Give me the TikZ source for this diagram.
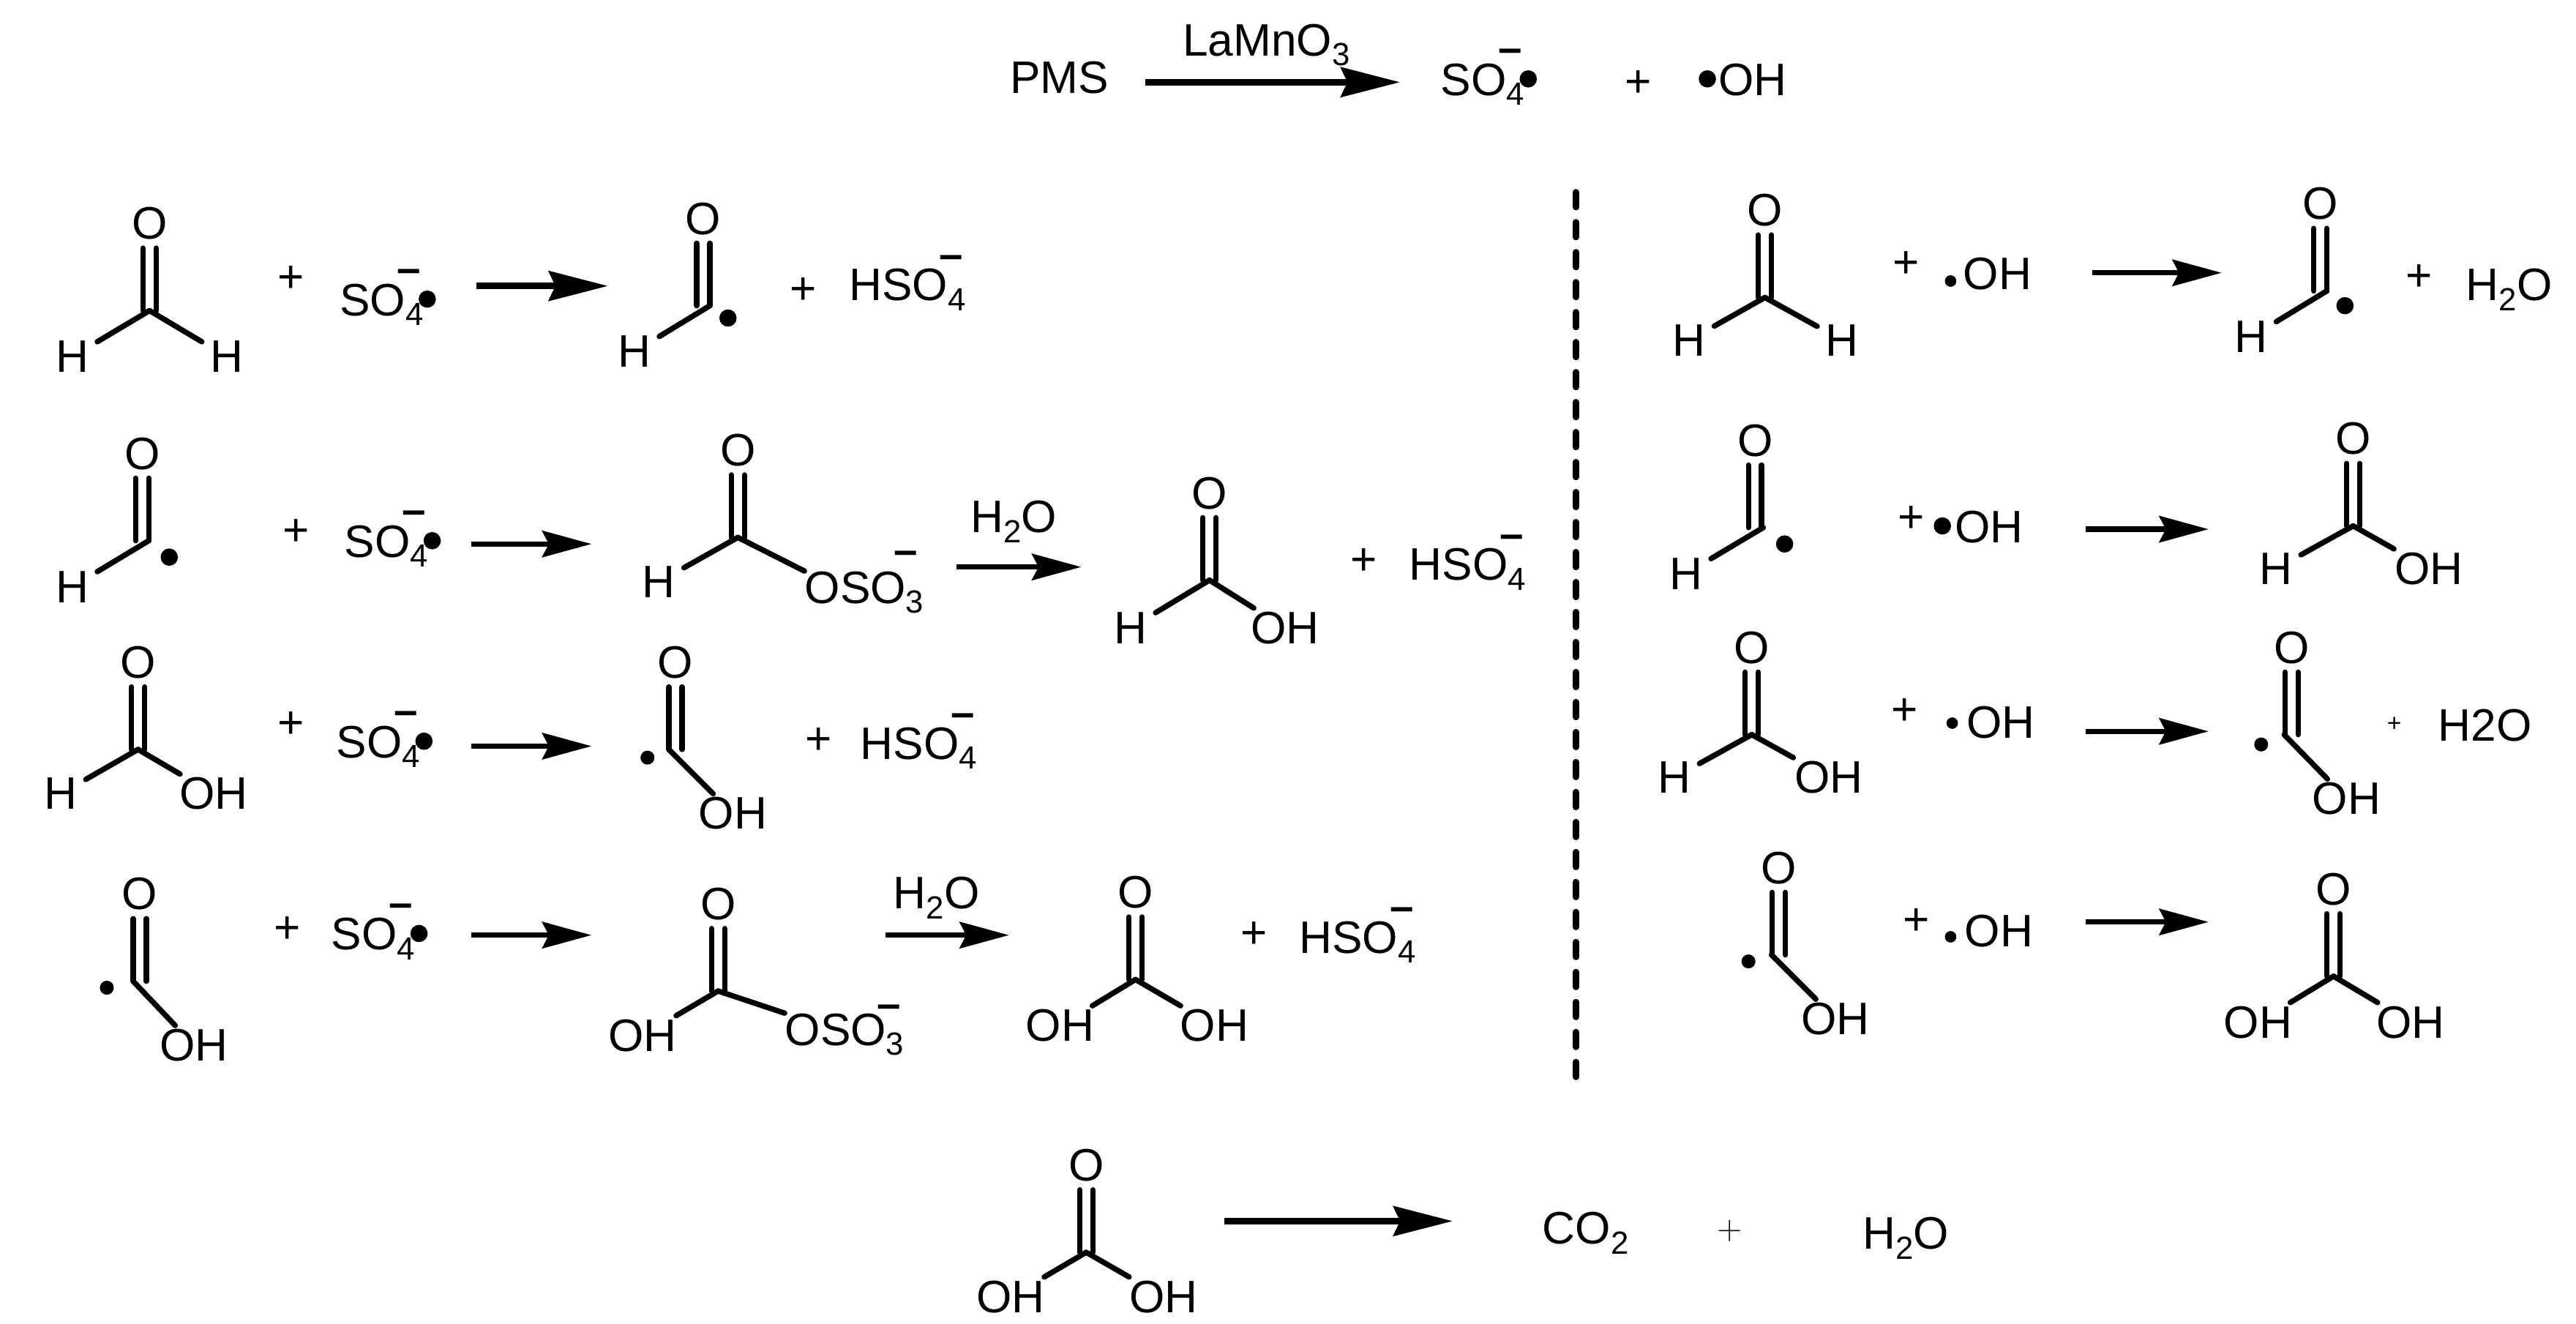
\documentclass[tikz,border=0pt]{standalone}
\usepackage{fontspec}
\setmainfont{Liberation Sans}
\usetikzlibrary{arrows.meta}
\newcommand{\chsub}[1]{\raisebox{-6pt}{\fontsize{19.5}{20}\selectfont #1}}
\tikzset{
  chem/.style={anchor=base west,inner sep=0pt,xshift=-0.5pt},
  atom/.style={inner sep=5pt},
  hydroxyl/.style={inner sep=2pt},
  plus/.style={inner sep=0pt},
  minus/.style={inner sep=0pt,yshift=-2.5pt,font=\fontsize{26}{26}\selectfont\bfseries},
  dot/.style={circle,fill=black,inner sep=0pt,minimum size=10.5pt},
  meddot/.style={circle,fill=black,inner sep=0pt,minimum size=8.5pt},
  smalldot/.style={circle,fill=black,inner sep=0pt,minimum size=7pt},
  bond/.style={line width=3.3pt,line cap=round},
  rxn/.style={line width=3.3pt,-{Stealth[length=30pt,width=16pt,inset=4pt]}},
  bigrxn/.style={line width=4pt,-{Stealth[length=36pt,width=18pt,inset=4pt]}}
}
% carbon with its double bonded oxygen: name, x, y, shift of the oxygen
\newcommand{\carbonyl}[4]{
  \coordinate (#1c) at (#2,#3);
  \node[atom] (#1o) at (#2+#4,#3-53) {O};
  \draw[bond] ([xshift=-4pt]#1o.south) -- ([xshift=-4pt]#1o.south |- #1c);
  \draw[bond] ([xshift=4pt]#1o.south) -- ([xshift=4pt]#1o.south |- #1c);
}
% H or OH on a carbon: style, name, carbon, x, y, text
\newcommand{\arm}[6]{
  \node[#1] (#2) at (#4,#5) {#6};
  \draw[bond] (#3) -- (#2);
}
% sulfate radical: name, x, baseline
\newcommand{\sofour}[3]{
  \node[chem] (#1) at (#2,#3) {SO\chsub{4}};
  \node[minus] (#1m) at (#2+42,#3-26.5) {--};
  \node[dot] (#1d) at (#2+53,#3-10) {};
}
% bisulfate: name, x, baseline
\newcommand{\hsofour}[3]{
  \node[chem] (#1) at (#2,#3) {HSO\chsub{4}};
  \node[minus] (#1m) at (#2+62,#3-26) {--};
}
\begin{document}
\begin{tikzpicture}[x=1pt,y=-1pt,font=\fontsize{27.7}{30}\selectfont]
\useasboundingbox (0,0) rectangle (1567.6,805.2);

% Top line
\node[chem] (pms) at (615,57) {PMS};
\node[chem] (cat) at (720,34) {LaMnO\chsub{3}};
\coordinate (ta) at (697,50);
\coordinate (tb) at (852,50);
\draw[bigrxn] (ta) -- (tb);
\sofour{tso}{877}{58}
\node[plus] (tp) at (997,51) {+};
\node[dot] (tod) at (1039,48) {};
\node[chem] (toh) at (1046,58) {OH};

% Left, row 1
\carbonyl{ma}{91}{189}{0}
\arm{atom}{mah}{mac}{44}{217}{H}
\arm{atom}{mai}{mac}{138}{217}{H}
\node[plus] (pa) at (177,170) {+};
\sofour{soa}{207}{192}
\coordinate (aa) at (290,174);
\coordinate (ab) at (370,174);
\draw[bigrxn] (aa) -- (ab);
\carbonyl{mb}{432}{186}{-4}
\arm{atom}{mbh}{mbc}{386}{214}{H}
\node[dot] (mbd) at (443,193.5) {};
\node[plus] (pb) at (489,177) {+};
\hsofour{hsa}{517}{183}

% Left, row 2
\carbonyl{mc}{90.5}{329}{-4}
\arm{atom}{mch}{mcc}{44}{357}{H}
\node[dot] (mcd) at (103,339) {};
\node[plus] (pc) at (180,324) {+};
\sofour{sob}{210}{339}
\coordinate (ba) at (287,331);
\coordinate (bb) at (360,331);
\draw[rxn] (ba) -- (bb);
\carbonyl{md}{449}{327}{0}
\arm{atom}{mdh}{mdc}{401}{354}{H}
\node[chem] (mdx) at (490,367) {OSO\chsub{3}};
\draw[bond] (mdc) -- (mdx.north west);
\node[minus] (mdm) at (551,337) {--};
\node[chem] (wa) at (591,324) {H\chsub{2}O};
\coordinate (ca) at (582,345);
\coordinate (cb) at (658,345);
\draw[rxn] (ca) -- (cb);
\carbonyl{me}{736}{353}{0}
\arm{atom}{meh}{mec}{688}{382}{H}
\arm{hydroxyl}{meo}{mec}{782}{382}{OH}
\node[plus] (pd) at (830,342) {+};
\hsofour{hsb}{858}{353}

% Left, row 3
\carbonyl{mf}{84}{456}{0}
\arm{atom}{mfh}{mfc}{37}{483}{H}
\arm{hydroxyl}{mfo}{mfc}{130}{483}{OH}
\node[plus] (pe) at (177,441) {+};
\sofour{soc}{205}{461}
\coordinate (da) at (287,454);
\coordinate (db) at (360,454);
\draw[rxn] (da) -- (db);
\carbonyl{mg}{407}{456}{4}
\node[meddot] (mgd) at (394,461) {};
\arm{hydroxyl}{mgo}{mgc}{446}{495}{OH}
\node[plus] (pf) at (498,451) {+};
\hsofour{hsc}{524}{462}

% Left, row 4
\carbonyl{mh}{81}{597}{4}
\node[meddot] (mhd) at (65,601) {};
\arm{hydroxyl}{mho}{mhc}{118}{636}{OH}
\node[plus] (pg) at (175,566) {+};
\sofour{sod}{202}{578}
\coordinate (ea) at (287,569);
\coordinate (eb) at (360,569);
\draw[rxn] (ea) -- (eb);
\carbonyl{mi}{437}{603}{0}
\arm{hydroxyl}{mio}{mic}{391}{630}{OH}
\node[chem] (mix) at (478,636) {OSO\chsub{3}};
\draw[bond] (mic) -- (mix.north west);
\node[minus] (mim) at (541,613) {--};
\node[chem] (wb) at (544,553) {H\chsub{2}O};
\coordinate (fa) at (539,569);
\coordinate (fb) at (614,569);
\draw[rxn] (fa) -- (fb);
\carbonyl{mj}{691}{596}{0}
\arm{hydroxyl}{mjo}{mjc}{645}{624}{OH}
\arm{hydroxyl}{mjp}{mjc}{739}{624}{OH}
\node[plus] (ph) at (763,569) {+};
\hsofour{hsd}{791}{580}

% Divider
\coordinate (la) at (959,117);
\coordinate (lb) at (959,655.8);
\draw[line width=4pt,line cap=round,dash pattern=on 9pt off 9.25pt] (la) -- (lb);

% Right, row 1
\carbonyl{na}{1074}{181}{0}
\arm{atom}{nah}{nac}{1028}{207}{H}
\arm{atom}{nai}{nac}{1121}{207}{H}
\node[plus] (qa) at (1160,161) {+};
\node[smalldot] (qad) at (1187,171) {};
\node[chem] (qao) at (1195,176) {OH};
\coordinate (ga) at (1273,166);
\coordinate (gb) at (1352,166);
\draw[rxn] (ga) -- (gb);
\carbonyl{nb}{1416}{177}{-4}
\arm{atom}{nbh}{nbc}{1370}{205}{H}
\node[dot] (nbd) at (1427,186) {};
\node[plus] (qb) at (1472,169) {+};
\node[chem] (wc) at (1501,183) {H\chsub{2}O};

% Right, row 2
\carbonyl{nc}{1073}{321}{-5}
\arm{atom}{nch}{ncc}{1026}{349}{H}
\node[dot] (ncd) at (1086,331) {};
\node[plus] (qc) at (1163,316) {+};
\node[dot] (qcd) at (1182,320) {};
\node[chem] (qco) at (1190,330) {OH};
\coordinate (ha) at (1269,322);
\coordinate (hb) at (1344,322);
\draw[rxn] (ha) -- (hb);
\carbonyl{nd}{1432}{320}{0}
\arm{atom}{ndh}{ndc}{1385}{346}{H}
\arm{hydroxyl}{ndo}{ndc}{1478}{346}{OH}

% Right, row 3
\carbonyl{ne}{1066}{447}{0}
\arm{atom}{neh}{nec}{1019}{473}{H}
\arm{hydroxyl}{neo}{nec}{1113}{473}{OH}
\node[plus] (qd) at (1159,433) {+};
\node[smalldot] (qdd) at (1188,440) {};
\node[chem] (qdo) at (1197,449) {OH};
\coordinate (ia) at (1269,445);
\coordinate (ib) at (1344,445);
\draw[rxn] (ia) -- (ib);
\carbonyl{nf}{1390}{447}{4.5}
\node[meddot] (nfd) at (1376,453) {};
\arm{hydroxyl}{nfo}{nfc}{1428}{486}{OH}
\node[plus,font=\fontsize{15}{16}\selectfont] (qe) at (1457,441) {+};
\node[chem] (wd) at (1484,451) {H2O};

% Right, row 4
\carbonyl{ng}{1078}{581}{4.5}
\node[meddot] (ngd) at (1064,585) {};
\arm{hydroxyl}{ngo}{ngc}{1117}{620}{OH}
\node[plus] (qf) at (1166,561) {+};
\node[smalldot] (qfd) at (1187,570) {};
\node[chem] (qfo) at (1196,576) {OH};
\coordinate (ja) at (1269,561);
\coordinate (jb) at (1344,561);
\draw[rxn] (ja) -- (jb);
\carbonyl{nh}{1420}{594}{0}
\arm{hydroxyl}{nho}{nhc}{1374}{622}{OH}
\arm{hydroxyl}{nhp}{nhc}{1467}{622}{OH}

% Bottom line
\carbonyl{ka}{661}{762}{0}
\arm{hydroxyl}{kao}{kac}{615}{789}{OH}
\arm{hydroxyl}{kap}{kac}{708}{789}{OH}
\coordinate (ka1) at (745,743);
\coordinate (ka2) at (884,743);
\draw[bigrxn] (ka1) -- (ka2);
\node[chem] (co) at (939,757) {CO\chsub{2}};
\node[plus,font=\fontsize{20}{20}\selectfont] (kp) at (1052.5,749) {$+$};
\node[chem] (we) at (1134,760) {H\chsub{2}O};
\end{tikzpicture}
\end{document}
